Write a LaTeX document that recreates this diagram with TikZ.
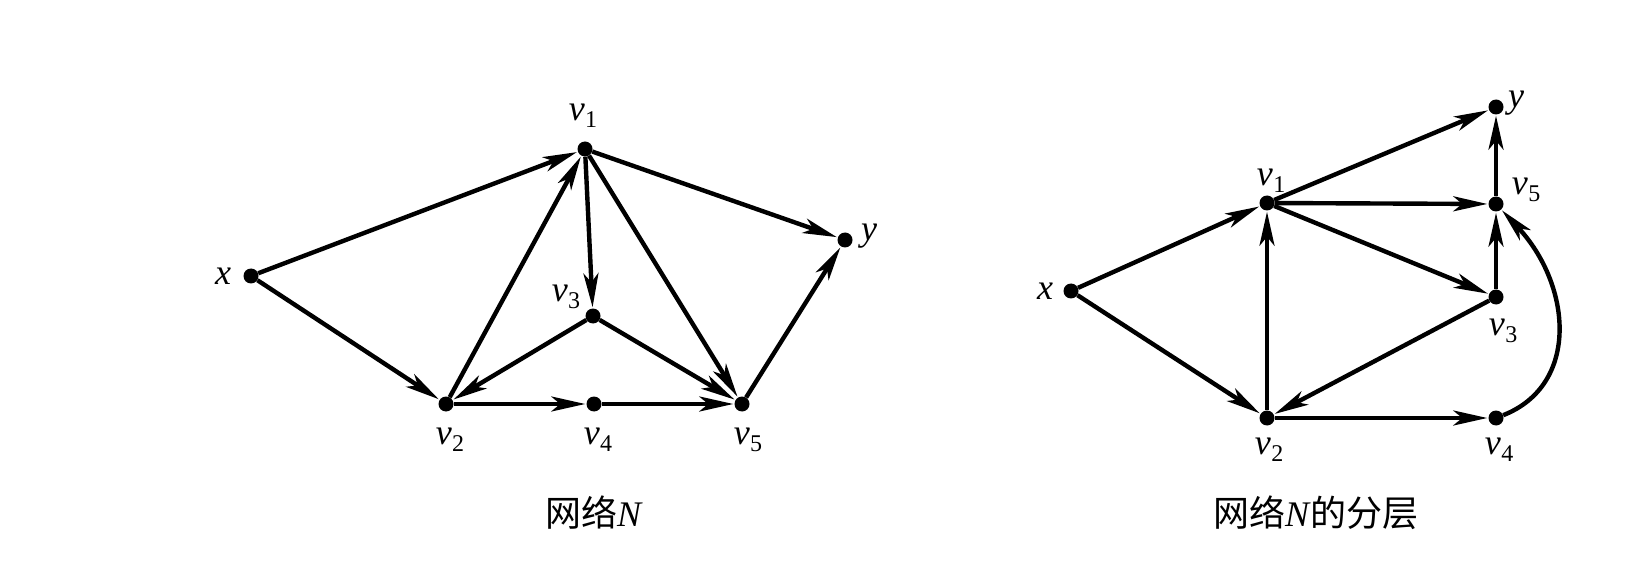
\documentclass[tikz,border=0pt]{standalone}
\usepackage{fontspec}
\setmainfont{Liberation Serif}
\newfontfamily\cjk{Noto Sans CJK SC}
\usetikzlibrary{arrows.meta}
\newcommand{\vlab}[1]{\textit{v}\kern0.5pt\raisebox{-0.4ex}{\fontsize{24}{24}\selectfont #1}}
\tikzset{
  vert/.style={circle,fill=black,inner sep=0pt,minimum size=15pt},
  lab/.style={inner sep=0pt,font=\fontsize{36}{38}\selectfont},
  edge/.style={line width=4.4pt,-{Stealth[length=34pt,width=15pt,inset=9pt]},shorten >=1pt},
  captxt/.style={inner sep=0pt,font=\fontsize{36}{40}\selectfont}
}
\begin{document}
\begin{tikzpicture}[x=1pt,y=-1pt]
\useasboundingbox (0,0) rectangle (1634,564);
% ---------- left graph ----------
\node[vert] (Lx) at (251,276) {};
\node[vert] (L1) at (585,149) {};
\node[vert] (Ly) at (845,240) {};
\node[vert] (L3) at (593,316) {};
\node[vert] (L2) at (446,404) {};
\node[vert] (L4) at (594,404) {};
\node[vert] (L5) at (742,404) {};
\node[lab] (Llx) at (223,276) {\textit{x}};
\node[lab] (Ll1) at (583,116) {\vlab{1}};
\node[lab] (Lly) at (869,236) {\textit{y}};
\node[lab] (Ll3) at (566,297) {\vlab{3}};
\node[lab] (Ll2) at (450,440) {\vlab{2}};
\node[lab] (Ll4) at (598,440) {\vlab{4}};
\node[lab] (Ll5) at (748,440) {\vlab{5}};
\draw[edge] (Lx) -- (L1);
\draw[edge] (Lx) -- (L2);
\draw[edge] (L1) -- (Ly);
\draw[edge] (L2) -- (L1);
\draw[edge] (L1) -- (L3);
\draw[edge] (L1) -- (L5);
\draw[edge] (L3) -- (L2);
\draw[edge] (L3) -- (L5);
\draw[edge] (L2) -- (L4);
\draw[edge] (L4) -- (L5);
\draw[edge] (L5) -- (Ly);
\node[captxt] (Lcap) at (594,513) {{\cjk 网络}\textit{N}};
% ---------- right graph ----------
\node[vert] (Rx) at (1071,291) {};
\node[vert] (R1) at (1267,203) {};
\node[vert] (Ry) at (1496,107) {};
\node[vert] (R5) at (1496,204) {};
\node[vert] (R3) at (1496,297) {};
\node[vert] (R2) at (1267,418) {};
\node[vert] (R4) at (1496,418) {};
\node[lab] (Rlx) at (1045,291) {\textit{x}};
\node[lab] (Rl1) at (1271,181) {\vlab{1}};
\node[lab] (Rly) at (1516,103) {\textit{y}};
\node[lab] (Rl5) at (1526,190) {\vlab{5}};
\node[lab] (Rl3) at (1503,331) {\vlab{3}};
\node[lab] (Rl2) at (1269,450) {\vlab{2}};
\node[lab] (Rl4) at (1499,450) {\vlab{4}};
\draw[edge] (Rx) -- (R1);
\draw[edge] (Rx) -- (R2);
\draw[edge] (R2) -- (R1);
\draw[edge] (R1) -- (Ry);
\draw[edge] (R1) -- (R5);
\draw[edge] (R1) -- (R3);
\draw[edge] (R3) -- (R2);
\draw[edge] (R3) -- (R5);
\draw[edge] (R5) -- (Ry);
\draw[edge] (R2) -- (R4);
\draw[edge] (R4) .. controls (1580,385) and (1572,285) .. (R5);
\node[captxt] (Rcap) at (1316,513) {{\cjk 网络}\textit{N}{\cjk 的分层}};
\end{tikzpicture}
\end{document}
